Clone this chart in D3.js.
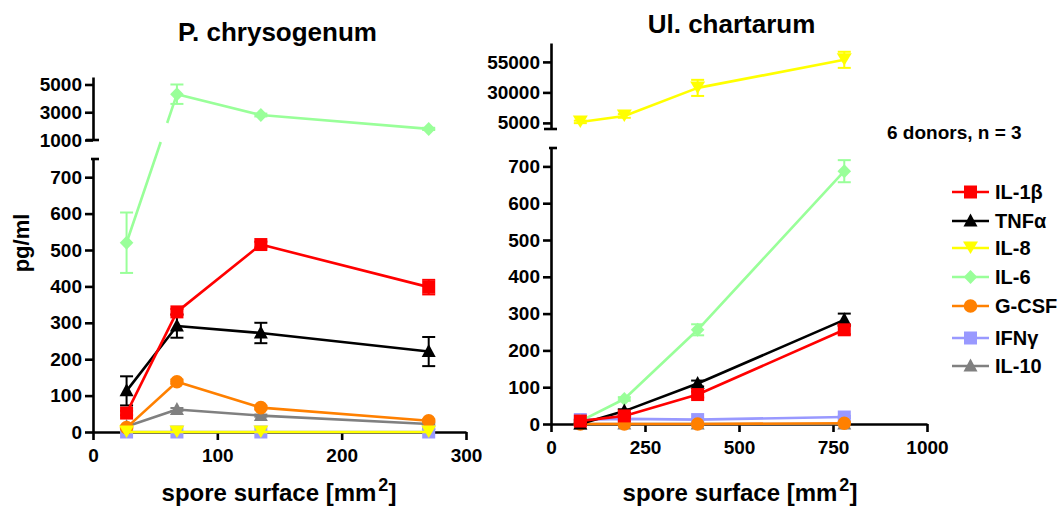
<!DOCTYPE html>
<html>
<head>
<meta charset="utf-8">
<script src="https://cdn.jsdelivr.net/npm/d3@7"></script>
<style>
  body { margin: 0; background: #fff; }
  svg text { font-family: "Liberation Sans", Arial, Helvetica, sans-serif; font-weight: bold; fill: #000; }
</style>
</head>
<body>
<svg id="chart" width="1059" height="509"></svg>
<script>
// ---- cytokine series (legend order) ----
const seriesNames   = ["IL-1β", "TNFα", "IL-8", "IL-6", "G-CSF", "IFNγ", "IL-10"];
const seriesColors  = ["#ff0000", "#000000", "#ffff00", "#99ff99", "#ff8000", "#9999ff", "#808080"];
const seriesSymbols = ["square", "triangle", "triangleDown", "diamond", "circle", "square", "triangle"];

// ---- P. chrysogenum: spore surface [mm²] and mean ± SEM [pg/ml] ----
const pcSurface = [27, 67.5, 135, 270];
const pcIL1b  = [52, 330, 515, 398];   const pcIL1bErr  = [6, 8, 8, 20];
const pcTNFa  = [113, 291, 272, 221];  const pcTNFaErr  = [40, 32, 28, 40];
const pcIL8   = [0, 0, 0, 0];          const pcIL8Err   = [0, 0, 0, 0];
const pcIL6   = [520, 4300, 2800, 1800]; const pcIL6Err = [83, 700, 100, 80];
const pcGCSF  = [12, 138, 67, 31];     const pcGCSFErr  = [3, 6, 5, 4];
const pcIFNg  = [0, 0, 0, 0];          const pcIFNgErr  = [0, 0, 0, 0];
const pcIL10  = [15, 62, 45, 22];      const pcIL10Err  = [2, 4, 3, 2];

// ---- Ul. chartarum ----
const ucSurface = [78, 195, 390, 780];
const ucIL1b  = [8, 22, 80, 256];      const ucIL1bErr  = [3, 5, 8, 12];
const ucTNFa  = [0, 35, 110, 283];     const ucTNFaErr  = [2, 5, 8, 17];
const ucIL8   = [5800, 10700, 33700, 56700]; const ucIL8Err = [1000, 1500, 6600, 6600];
const ucIL6   = [8, 68, 256, 687];     const ucIL6Err   = [2, 5, 15, 30];
const ucGCSF  = [0, 0, 0, 2];          const ucGCSFErr  = [0, 0, 0, 0];
const ucIFNg  = [12, 14, 12, 19];      const ucIFNgErr  = [2, 2, 2, 3];
const ucIL10  = [0, 0, 0, 0];          const ucIL10Err  = [0, 0, 0, 0];

// ---- axis ticks ----
const pcXTicks   = [0, 100, 200, 300];
const ucXTicks   = [0, 250, 500, 750, 1000];
const lowerTicks = [0, 100, 200, 300, 400, 500, 600, 700];
const pcUpperTicks = [1000, 3000, 5000];
const ucUpperTicks = [5000, 30000, 55000];

const svg = d3.select("#chart");
const AXW = 2.6, LINEW = 2.6;

function symbolPath(kind) {
  switch (kind) {
    case "square": return "M-6.5,-6.5H6.5V6.5H-6.5Z";
    case "triangle": return "M0,-7.5L7,5.5L-7,5.5Z";
    case "triangleDown": return "M0,6L7.5,-6.5L-7.5,-6.5Z";
    case "diamond": return "M0,-7L6.8,0L0,7L-6.8,0Z";
    case "circle": return d3.symbol(d3.symbolCircle, Math.PI * 6.8 * 6.8)();
  }
}

function buildPanel(cfg) {
  const g = svg.append("g");
  const { x, yLo, yHi } = cfg;
  const x0 = x.range()[0];
  const loTop = yLo.range()[1];
  const hiBottom = yHi.range()[0];
  const yOf = v => (v > yLo.domain()[1] ? yHi(v) : yLo(v));

  // x axis
  const xAxis = g.append("g").attr("transform", `translate(0,${yLo.range()[0]})`)
    .call(d3.axisBottom(x).tickValues(cfg.xTicks).tickSize(8).tickSizeOuter(0).tickPadding(8.5).tickFormat(d3.format("d")));
  // lower y axis
  const yAxisLo = g.append("g").attr("transform", `translate(${x0},0)`)
    .call(d3.axisLeft(yLo).tickValues(lowerTicks).tickSize(8).tickSizeOuter(0).tickPadding(3).tickFormat(d3.format("d")));
  // upper y axis
  const yAxisHi = g.append("g").attr("transform", `translate(${x0},0)`)
    .call(d3.axisLeft(yHi).tickValues(cfg.upperTicks).tickSize(8).tickSizeOuter(0).tickPadding(3).tickFormat(d3.format("d")));
  [xAxis, yAxisLo, yAxisHi].forEach(a => {
    a.selectAll("path.domain").attr("stroke", "#000").attr("stroke-width", AXW);
    a.selectAll(".tick line").attr("stroke", "#000").attr("stroke-width", AXW);
    a.selectAll(".tick text").style("font-size", "19px").attr("fill", "#000");
  });
  // break caps of the split y axis
  g.append("line").attr("x1", x0 - 7).attr("x2", x0 + 6).attr("y1", hiBottom).attr("y2", hiBottom)
    .attr("stroke", "#000").attr("stroke-width", AXW);
  g.append("line").attr("x1", x0 - 2).attr("x2", x0 + 6).attr("y1", loTop).attr("y2", loTop)
    .attr("stroke", "#000").attr("stroke-width", AXW);

  // title
  g.append("text").attr("x", cfg.titleX).attr("y", cfg.titleY).attr("text-anchor", "middle")
    .style("font-size", "26px").text(cfg.title);
  // x label
  const xl = g.append("text").attr("x", cfg.xLabelX).attr("y", 501).attr("text-anchor", "middle")
    .style("font-size", "24px");
  xl.append("tspan").text("spore surface [mm");
  xl.append("tspan").attr("dx", 2).attr("dy", -10).style("font-size", "18px").text("2");
  xl.append("tspan").attr("dy", 10).text("]");

  // gap for segments crossing the axis break
  const gapStart = hiBottom + 2;
  const gapEnd = gapStart - (loTop - hiBottom);

  // series drawn in reverse legend order so IL-1β ends on top
  for (let s = cfg.series.length - 1; s >= 0; s--) {
    const ser = cfg.series[s];
    const color = seriesColors[s];
    const pts = cfg.xs.map((xv, i) => ({ x: x(xv), y: yOf(ser.v[i]), hi: ser.v[i] > yLo.domain()[1], v: ser.v[i], e: ser.e[i] }));
    const p = d3.path();
    pts.forEach((q, i) => {
      if (i === 0) { p.moveTo(q.x, q.y); return; }
      const a = pts[i - 1];
      if (a.hi !== q.hi) {
        const lo = a.hi ? q : a, hi = a.hi ? a : q;
        const at = yy => ({ x: lo.x + (hi.x - lo.x) * (lo.y - yy) / (lo.y - hi.y), y: yy });
        const P1 = at(gapStart), P2 = at(gapEnd);
        if (!a.hi) { p.lineTo(P1.x, P1.y); p.moveTo(P2.x, P2.y); }
        else { p.lineTo(P2.x, P2.y); p.moveTo(P1.x, P1.y); }
        p.lineTo(q.x, q.y);
      } else p.lineTo(q.x, q.y);
    });
    g.append("path").attr("d", p.toString()).attr("fill", "none").attr("stroke", color)
      .attr("stroke-width", LINEW).attr("stroke-linejoin", "round");
    // error bars
    pts.forEach(q => {
      if (!q.e) return;
      const sc = q.hi ? yHi : yLo;
      const yt = sc(q.v + q.e), yb = sc(Math.max(q.v - q.e, sc.domain()[0]));
      g.append("line").attr("x1", q.x).attr("x2", q.x).attr("y1", yt).attr("y2", yb)
        .attr("stroke", color).attr("stroke-width", 2);
      [yt, yb].forEach(yy => g.append("line").attr("x1", q.x - 6.5).attr("x2", q.x + 6.5)
        .attr("y1", yy).attr("y2", yy).attr("stroke", color).attr("stroke-width", 2));
    });
    // markers
    g.selectAll(null).data(pts).enter().append("path")
      .attr("transform", d => `translate(${d.x},${d.y})`)
      .attr("d", symbolPath(seriesSymbols[s])).attr("fill", color);
  }
}

buildPanel({
  title: "P. chrysogenum", titleX: 277.5, titleY: 41, xLabelX: 279,
  x: d3.scaleLinear([0, 300], [93, 466]),
  yLo: d3.scaleLinear([0, 750], [432, 159]),
  yHi: d3.scaleLinear([1000, 5540], [140, 77]),
  xTicks: pcXTicks, upperTicks: pcUpperTicks, xs: pcSurface,
  series: [
    { v: pcIL1b, e: pcIL1bErr }, { v: pcTNFa, e: pcTNFaErr }, { v: pcIL8, e: pcIL8Err },
    { v: pcIL6, e: pcIL6Err }, { v: pcGCSF, e: pcGCSFErr }, { v: pcIFNg, e: pcIFNgErr },
    { v: pcIL10, e: pcIL10Err }
  ]
});

buildPanel({
  title: "Ul. chartarum", titleX: 731.5, titleY: 33, xLabelX: 740,
  x: d3.scaleLinear([0, 1000], [551, 927]),
  yLo: d3.scaleLinear([0, 750], [424, 148]),
  yHi: d3.scaleLinear([0, 70500], [129, 43]),
  xTicks: ucXTicks, upperTicks: ucUpperTicks, xs: ucSurface,
  series: [
    { v: ucIL1b, e: ucIL1bErr }, { v: ucTNFa, e: ucTNFaErr }, { v: ucIL8, e: ucIL8Err },
    { v: ucIL6, e: ucIL6Err }, { v: ucGCSF, e: ucGCSFErr }, { v: ucIFNg, e: ucIFNgErr },
    { v: ucIL10, e: ucIL10Err }
  ]
});

// y axis label
svg.append("text").attr("transform", "translate(29,243) rotate(-90)").attr("text-anchor", "middle")
  .style("font-size", "22px").text("pg/ml");

// donor note
svg.append("text").attr("x", 887).attr("y", 139).style("font-size", "19px").text("6 donors, n = 3");

// legend
const legendRows = [192, 221, 248, 277, 306, 338, 366];
const legend = svg.append("g");
seriesNames.forEach((name, i) => {
  const row = legend.append("g").attr("transform", `translate(0,${legendRows[i]})`);
  row.append("line").attr("x1", 952).attr("x2", 989).attr("y1", 0).attr("y2", 0)
    .attr("stroke", seriesColors[i]).attr("stroke-width", LINEW);
  row.append("path").attr("transform", "translate(970.5,0)").attr("d", symbolPath(seriesSymbols[i]))
    .attr("fill", seriesColors[i]);
  row.append("text").attr("x", 995).attr("y", 7).style("font-size", "20px").text(name);
});
</script>
</body>
</html>
